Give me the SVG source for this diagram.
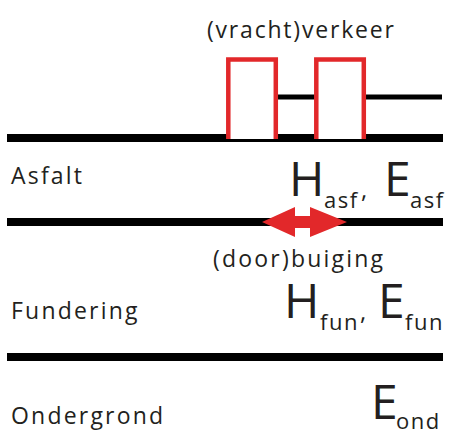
<svg xmlns="http://www.w3.org/2000/svg" width="449" height="431" viewBox="0 0 449 431">
<style>
.t{font-family:"Open Sans","DejaVu Sans",sans-serif;font-size:23px;fill:#231f20;letter-spacing:2.2px}
.big{font-family:"Open Sans","DejaVu Sans",sans-serif;font-size:48px;fill:#231f20}
.sub{font-family:"Open Sans","DejaVu Sans",sans-serif;font-size:22px;fill:#231f20;letter-spacing:1.5px}
.cm{font-family:"Open Sans","DejaVu Sans",sans-serif;font-size:24px;fill:#231f20}
.layer{stroke:#000;stroke-width:8;fill:none}
.axle{stroke:#000;stroke-width:5;fill:none}
.wheel{stroke:#e2282a;stroke-width:4.5;fill:#fff}
</style>
<rect width="449" height="431" fill="#fff"/>
<g id="connectors">
<line class="layer" x1="7" y1="138" x2="443" y2="138"/>
<line class="layer" x1="7" y1="222" x2="443" y2="222"/>
<line class="layer" x1="7" y1="357" x2="443" y2="357"/>
<line class="axle" x1="276" y1="97" x2="318" y2="97"/>
<line class="axle" x1="364" y1="97" x2="442" y2="97"/>
</g>
<g id="traffic">
<text class="t" x="207" y="38" style="letter-spacing:1.8px">(vracht)verkeer</text>
<path class="wheel" d="M228.3,139 V59.5 H275.8 V139"/>
<path class="wheel" d="M316.3,139 V59.5 H363.8 V139"/>
</g>
<g id="asfalt">
<text class="t" x="11" y="184">Asfalt</text>
<text class="big" x="289" y="196">H</text>
<text class="sub" x="324" y="208">asf</text>
<text class="cm" x="361" y="198">,</text>
<text class="big" x="384" y="196">E</text>
<text class="sub" x="410" y="208">asf</text>
</g>
<g id="buiging">
<polygon fill="#e2282a" points="262,222 295,207 295,216 310,216 310,207 347,222 310,237 310,228 295,228 295,237"/>
<text class="t" x="213" y="267">(door)buiging</text>
</g>
<g id="fundering">
<text class="t" x="11" y="319">Fundering</text>
<text class="big" x="284" y="318">H</text>
<text class="sub" x="320" y="330">fun</text>
<text class="cm" x="360" y="320">,</text>
<text class="big" x="378" y="318">E</text>
<text class="sub" x="405" y="330">fun</text>
</g>
<g id="ondergrond">
<text class="t" x="11" y="424">Ondergrond</text>
<text class="big" x="371" y="419">E</text>
<text class="sub" x="396" y="429">ond</text>
</g>
</svg>
